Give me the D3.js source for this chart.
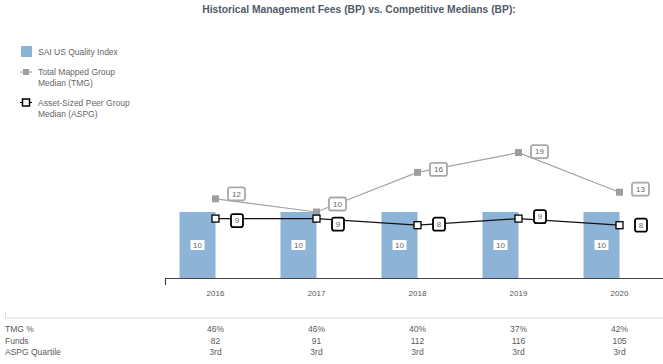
<!DOCTYPE html>
<html>
<head>
<meta charset="utf-8">
<script src="https://cdn.jsdelivr.net/npm/d3@7"></script>
<style>
  body { margin: 0; background: #fff; }
  svg { font-family: "Liberation Sans", Arial, sans-serif; }
</style>
</head>
<body>
<div id="chart"></div>
<script>
// values
const years = ["2016", "2017", "2018", "2019", "2020"];
const saiFees = [10, 10, 10, 10, 10];
const tmgFees = [12, 10, 16, 19, 13];
const aspgFees = [9, 9, 8, 9, 8];
const tmgPct = ["46%", "46%", "40%", "37%", "42%"];
const funds = ["82", "91", "112", "116", "105"];
const aspgQuartile = ["3rd", "3rd", "3rd", "3rd", "3rd"];
const tableRows = ["TMG %", "Funds", "ASPG Quartile"];

const W = 663, H = 364;
const svg = d3.select("#chart").append("svg")
    .attr("width", W)
    .attr("height", H);

const x = d3.scaleBand().domain(years).range([165, 670]);
const cx = d => x(d) + x.bandwidth() / 2;
const y = d3.scaleLinear().domain([0, 20]).range([278, 146]);

// title
svg.append("text")
    .attr("x", 359).attr("y", 12.5)
    .attr("text-anchor", "middle")
    .attr("font-size", 10.3)
    .attr("font-weight", "bold")
    .attr("fill", "#4f5b67")
    .text("Historical Management Fees (BP) vs. Competitive Medians (BP):");

// legend
const leg = svg.append("g").attr("fill", "#666").attr("font-size", 8.5);
leg.append("rect").attr("x", 21).attr("y", 46).attr("width", 11).attr("height", 11).attr("fill", "#8db3d6");
leg.append("text").attr("x", 38).attr("y", 55).text("SAI US Quality Index");

leg.append("line").attr("x1", 20).attr("x2", 32).attr("y1", 72).attr("y2", 72).attr("stroke", "#9e9e9e");
leg.append("rect").attr("x", 23).attr("y", 69).attr("width", 6).attr("height", 6).attr("fill", "#9e9e9e");
leg.append("text").attr("x", 38).attr("y", 75).text("Total Mapped Group");
leg.append("text").attr("x", 38).attr("y", 86).text("Median (TMG)");

leg.append("line").attr("x1", 20).attr("x2", 32).attr("y1", 102.5).attr("y2", 102.5).attr("stroke", "#000");
leg.append("rect").attr("x", 22.5).attr("y", 99).attr("width", 7).attr("height", 7)
    .attr("fill", "#fff").attr("stroke", "#000").attr("stroke-width", 1.5);
leg.append("text").attr("x", 38).attr("y", 105.5).text("Asset-Sized Peer Group");
leg.append("text").attr("x", 38).attr("y", 116.5).text("Median (ASPG)");

// bars
const barW = 36;
svg.append("g").selectAll("rect")
    .data(years)
    .join("rect")
    .attr("x", (d) => cx(d) - barW)
    .attr("y", (d, i) => y(saiFees[i]))
    .attr("width", barW)
    .attr("height", (d, i) => y(0) - y(saiFees[i]))
    .attr("fill", "#8db3d6");

const barLab = svg.append("g").selectAll("g")
    .data(years)
    .join("g")
    .attr("transform", (d, i) => `translate(${cx(d) - barW / 2},${(y(saiFees[i]) + y(0)) / 2})`);
barLab.append("rect").attr("x", -7).attr("y", -5).attr("width", 14).attr("height", 10).attr("fill", "#fff");
barLab.append("text").attr("text-anchor", "middle").attr("dy", "0.35em")
    .attr("font-size", 8).attr("fill", "#666")
    .text((d, i) => saiFees[i]);

// axis
const axis = svg.append("g")
    .attr("transform", `translate(0,${y(0)})`)
    .call(d3.axisBottom(x).tickSizeInner(0).tickSizeOuter(7).tickPadding(12));
axis.select(".domain").attr("stroke", "#444").attr("stroke-width", 1.2);
axis.selectAll("text").attr("font-size", 8).attr("fill", "#555")
    .attr("font-family", "Liberation Sans, Arial, sans-serif");

// lines
const line = d3.line().x(d => d[0]).y(d => d[1]);
const tmgPts = years.map((d, i) => [cx(d), y(tmgFees[i])]);
const aspgPts = years.map((d, i) => [cx(d), y(aspgFees[i])]);

svg.append("path").attr("d", line(tmgPts)).attr("fill", "none")
    .attr("stroke", "#a3a3a3").attr("stroke-width", 1.2);
svg.append("path").attr("d", line(aspgPts)).attr("fill", "none")
    .attr("stroke", "#111").attr("stroke-width", 1.2);

svg.append("g").selectAll("rect")
    .data(tmgPts)
    .join("rect")
    .attr("x", d => d[0] - 3.5).attr("y", d => d[1] - 3.5)
    .attr("width", 7).attr("height", 7)
    .attr("fill", "#9e9e9e");

svg.append("g").selectAll("rect")
    .data(aspgPts)
    .join("rect")
    .attr("x", d => d[0] - 3.5).attr("y", d => d[1] - 3.5)
    .attr("width", 7).attr("height", 7)
    .attr("fill", "#fff").attr("stroke", "#000").attr("stroke-width", 1.3);

// value boxes next to markers
const tmgDy = [-5, -8, -3, -1, -3];
const tmgLab = svg.append("g").selectAll("g")
    .data(tmgPts)
    .join("g")
    .attr("transform", (d, i) => `translate(${d[0] + 21},${d[1] + tmgDy[i]})`);
tmgLab.append("rect").attr("x", -8.5).attr("y", -6.5).attr("width", 17).attr("height", 13).attr("rx", 2)
    .attr("fill", "#fff").attr("stroke", "#a8a8a8").attr("stroke-width", 1.8);
tmgLab.append("text").attr("text-anchor", "middle").attr("dy", "0.35em")
    .attr("font-size", 8).attr("fill", "#666")
    .text((d, i) => tmgFees[i]);

const aspgDy = [2, 5.5, -1, -2, 0];
const aspgLab = svg.append("g").selectAll("g")
    .data(aspgPts)
    .join("g")
    .attr("transform", (d, i) => `translate(${d[0] + 21.5},${d[1] + aspgDy[i]})`);
aspgLab.append("rect").attr("x", -6).attr("y", -6.5).attr("width", 12).attr("height", 13).attr("rx", 2)
    .attr("fill", "#fff").attr("stroke", "#000").attr("stroke-width", 1.8);
aspgLab.append("text").attr("text-anchor", "middle").attr("dy", "0.35em")
    .attr("font-size", 8).attr("fill", "#666")
    .text((d, i) => aspgFees[i]);

// data table below
svg.append("line").attr("x1", 5).attr("x2", W).attr("y1", 318).attr("y2", 318)
    .attr("stroke", "#ddd");
svg.append("line").attr("x1", 5.5).attr("x2", 5.5).attr("y1", 312).attr("y2", 318)
    .attr("stroke", "#ddd");

const rowsY = [332, 343.5, 355];
const rowVals = [tmgPct, funds, aspgQuartile];
const tbl = svg.append("g").attr("font-size", 8.5).attr("fill", "#5a5a5a");
tableRows.forEach((name, r) => {
  tbl.append("text").attr("x", 5).attr("y", rowsY[r]).text(name);
  tbl.selectAll(null)
      .data(years)
      .join("text")
      .attr("x", d => cx(d))
      .attr("y", rowsY[r])
      .attr("text-anchor", "middle")
      .text((d, i) => rowVals[r][i]);
});
</script>
</body>
</html>
